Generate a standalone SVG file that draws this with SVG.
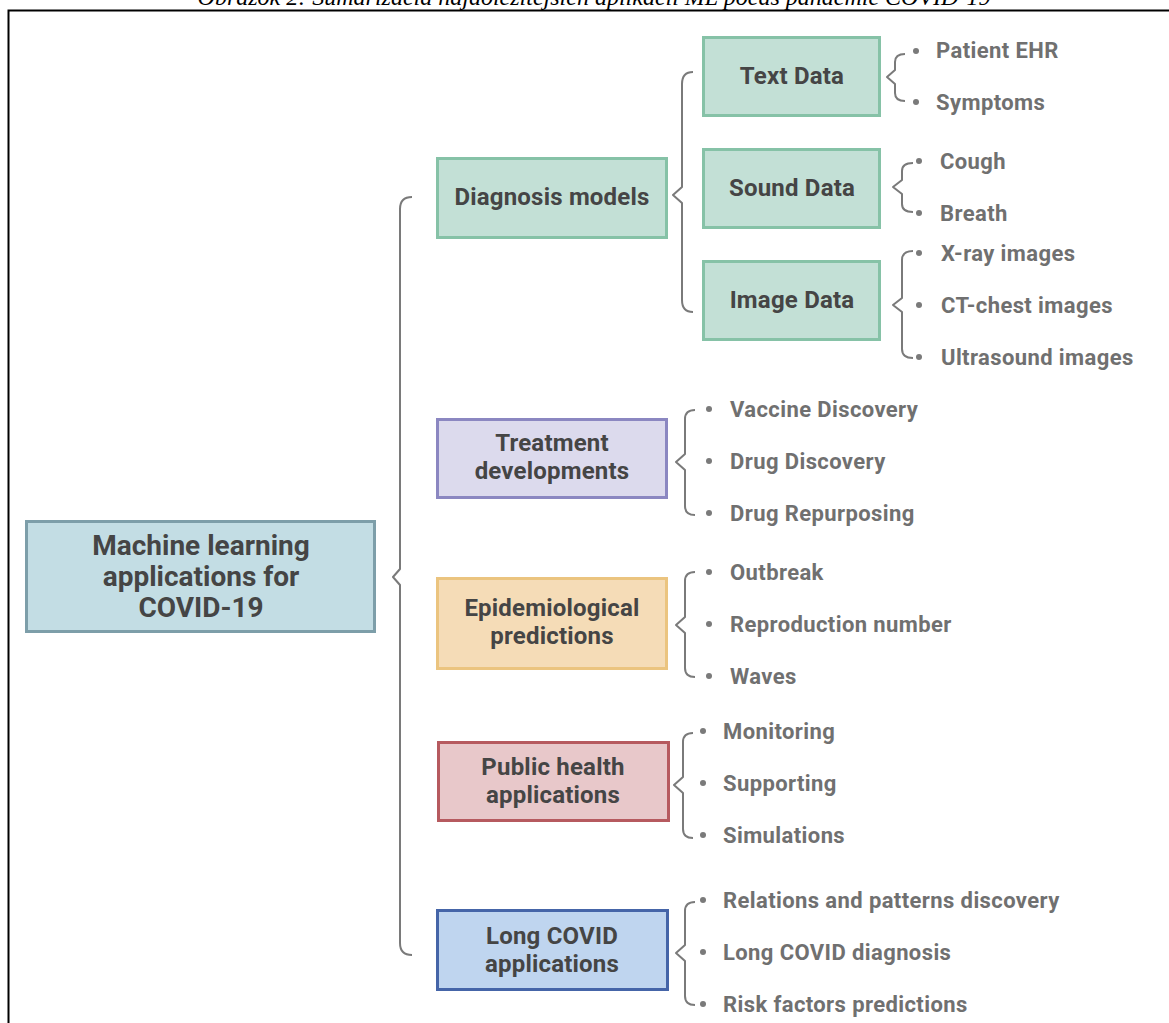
<svg xmlns="http://www.w3.org/2000/svg" width="1169" height="1023" viewBox="0 0 1169 1023">
<style>
.bt{font-family:Roboto,"Liberation Sans",sans-serif;font-weight:700;fill:#454545;text-anchor:middle;dominant-baseline:central}
.s22{font-size:24px;letter-spacing:0.2px}
.s26{font-size:28px}
.it{font-family:Roboto,"Liberation Sans",sans-serif;font-weight:700;font-size:22px;letter-spacing:0.4px;fill:#707070;dominant-baseline:central}
.br{fill:none;stroke:#7a7a7a;stroke-width:2;stroke-linejoin:round}
.dot{fill:#7a7a7a}
.box{stroke-width:3}
.green{fill:#c3e0d6;stroke:#86c2a7}
</style>
<rect width="1169" height="1023" fill="#fff"/>
<text x="594" y="5" font-family="'Liberation Serif',serif" font-style="italic" font-size="24" text-anchor="middle" fill="#000">Obrázok 2: Sumarizácia najdôležitejších aplikácií ML počas pandémie COVID-19</text>
<path d="M8.5,1023 V10.5 H1169" fill="none" stroke="#000" stroke-width="2"/>

<g id="connectors">
<path class="br" d="M412,197 Q400,197 400,209 V569 L393,577 L400,585 V943 Q400,955 412,955"/>
<path class="br" d="M693,72 Q682,72 682,84 V187 L673,195 L682,203 V300 Q682,312 693,312"/>
<path class="br" d="M905,54 Q895,54 895,62 V70 L887,77 L895,84 V93 Q895,101 905,101"/>
<path class="br" d="M913,163 Q902,163 902,171 V180 L893,187 L902,194 V204 Q902,212 913,212"/>
<path class="br" d="M913,251 Q902,251 902,260 V298 L893,305 L902,312 V349 Q902,358 913,358"/>
<path class="br" d="M695,410 Q685,410 685,419 V454 L676,462 L685,470 V506 Q685,515 695,515"/>
<path class="br" d="M695,572 Q685,572 685,581 V617 L676,625 L685,633 V668 Q685,677 695,677"/>
<path class="br" d="M693,733 Q683,733 683,742 V777 L674,785 L683,793 V829 Q683,838 693,838"/>
<path class="br" d="M695,902 Q685,902 685,911 V945 L676,953 L685,961 V996 Q685,1005 695,1005"/>
</g>

<g id="root">
<rect class="box" x="26.5" y="521.5" width="348" height="110" fill="#c3dde4" stroke="#7d9ea9"/>
<text class="bt s26" x="201" y="545">Machine learning</text>
<text class="bt s26" x="201" y="576">applications for</text>
<text class="bt s26" x="201" y="607">COVID-19</text>
</g>

<g id="diagnosis">
<rect class="box green" x="437.5" y="158.5" width="229" height="79"/>
<text class="bt s22" x="552" y="197">Diagnosis models</text>
</g>
<g id="text-data">
<rect class="box green" x="703.5" y="37.5" width="176" height="78"/>
<text class="bt s22" x="792" y="76">Text Data</text>
</g>
<g id="sound-data">
<rect class="box green" x="703.5" y="149.5" width="176" height="78"/>
<text class="bt s22" x="792" y="188">Sound Data</text>
</g>
<g id="image-data">
<rect class="box green" x="703.5" y="261.5" width="176" height="78"/>
<text class="bt s22" x="792" y="300">Image Data</text>
</g>

<g id="treatment">
<rect class="box" x="437.5" y="419.5" width="229" height="78" fill="#dcdaed" stroke="#8b87c1"/>
<text class="bt s22" x="552" y="443">Treatment</text>
<text class="bt s22" x="552" y="471">developments</text>
</g>
<g id="epidemiological">
<rect class="box" x="437.5" y="578.5" width="229" height="90" fill="#f5dcb7" stroke="#ebc47f"/>
<text class="bt s22" x="552" y="608">Epidemiological</text>
<text class="bt s22" x="552" y="636">predictions</text>
</g>
<g id="public-health">
<rect class="box" x="438.5" y="742.5" width="230" height="78" fill="#e8c8ca" stroke="#b65a5f"/>
<text class="bt s22" x="553" y="767">Public health</text>
<text class="bt s22" x="553" y="795">applications</text>
</g>
<g id="long-covid">
<rect class="box" x="437.5" y="910.5" width="230" height="79" fill="#bfd5ef" stroke="#4565a8"/>
<text class="bt s22" x="552" y="936">Long COVID</text>
<text class="bt s22" x="552" y="964">applications</text>
</g>

<g id="items">
<circle class="dot" cx="916" cy="51" r="3"/><text class="it" x="936" y="50">Patient EHR</text>
<circle class="dot" cx="916" cy="102" r="3"/><text class="it" x="936" y="102">Symptoms</text>
<circle class="dot" cx="919" cy="161" r="3"/><text class="it" x="940" y="161">Cough</text>
<circle class="dot" cx="919" cy="213" r="3"/><text class="it" x="940" y="213">Breath</text>
<circle class="dot" cx="919" cy="253" r="3"/><text class="it" x="941" y="253">X-ray images</text>
<circle class="dot" cx="919" cy="305" r="3"/><text class="it" x="941" y="305">CT-chest images</text>
<circle class="dot" cx="919" cy="357" r="3"/><text class="it" x="941" y="357">Ultrasound images</text>
<circle class="dot" cx="709" cy="409" r="3"/><text class="it" x="730" y="409">Vaccine Discovery</text>
<circle class="dot" cx="709" cy="461" r="3"/><text class="it" x="730" y="461">Drug Discovery</text>
<circle class="dot" cx="709" cy="513" r="3"/><text class="it" x="730" y="513">Drug Repurposing</text>
<circle class="dot" cx="709" cy="572" r="3"/><text class="it" x="730" y="572">Outbreak</text>
<circle class="dot" cx="709" cy="624" r="3"/><text class="it" x="730" y="624">Reproduction number</text>
<circle class="dot" cx="709" cy="676" r="3"/><text class="it" x="730" y="676">Waves</text>
<circle class="dot" cx="703" cy="731" r="3"/><text class="it" x="723" y="731">Monitoring</text>
<circle class="dot" cx="703" cy="783" r="3"/><text class="it" x="723" y="783">Supporting</text>
<circle class="dot" cx="703" cy="835" r="3"/><text class="it" x="723" y="835">Simulations</text>
<circle class="dot" cx="703" cy="900" r="3"/><text class="it" x="723" y="900">Relations and patterns discovery</text>
<circle class="dot" cx="703" cy="952" r="3"/><text class="it" x="723" y="952">Long COVID diagnosis</text>
<circle class="dot" cx="703" cy="1004" r="3"/><text class="it" x="723" y="1004">Risk factors predictions</text>
</g>
</svg>
